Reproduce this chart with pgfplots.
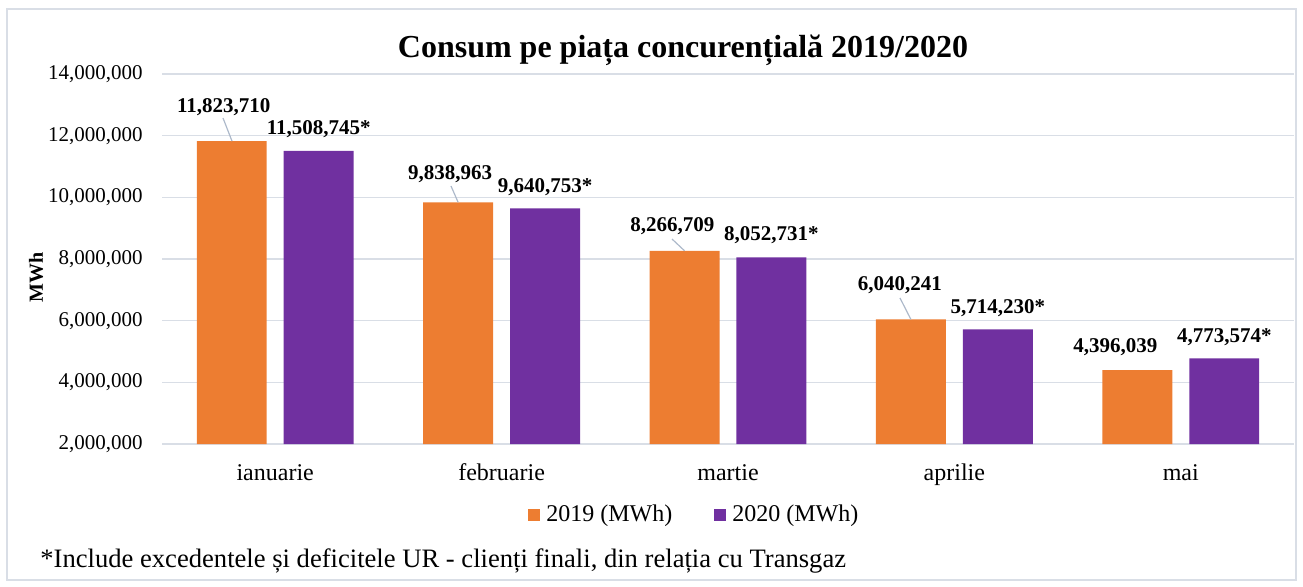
\documentclass[border=0pt]{standalone}
\usepackage{pgfplots}
\pgfplotsset{compat=1.18}
\usepackage{pgfplotstable}
\usepackage{fontspec}
\setmainfont{Liberation Serif}
\definecolor{c19}{HTML}{ED7D31}
\definecolor{c20}{HTML}{7030A0}
\definecolor{gridc}{HTML}{D9DEE6}
\definecolor{leadc}{HTML}{ADB9CA}
\definecolor{framec}{HTML}{D9DEE6}
\pgfplotsset{sqleg/.style={legend image code/.code={\fill[##1] (0pt,-3pt) rectangle (6pt,3pt);}}}

% dx, dy: label offsets (pt) from category centre / bar top
\pgfplotstableread{
x y dx dy lbl
0 11823710 -25.75 14.5 11,823,710
1 9838963 -25.75 11.5 9,838,963
2 8266709 -27.75 9.5 8,266,709
3 6040241 -27.25 14.5 6,040,241
4 4396039 -32.75 9 4,396,039
}\tabA

\pgfplotstableread{
x y dx dy lbl
0 11508745 21.75 8.4 11,508,745*
1 9640753 21.75 8.0 9,640,753*
2 8052731 21.75 8.2 8,052,731*
3 5714230 21.75 7.8 5,714,230*
4 4773574 21.75 8.2 4,773,574*
}\tabB

\begin{document}
\begin{tikzpicture}[x=1pt,y=1pt]
\useasboundingbox (0,0) rectangle (651.5,293);
\draw[framec, line width=0.75pt] (3.5,3) rectangle (648,288.5);
\node[font=\bfseries\fontsize{16}{18}\selectfont, anchor=base, inner sep=0pt] at (341.5,264.5) {Consum pe piața concurențială 2019/2020};
\node[font=\fontsize{13.3}{15}\selectfont, anchor=base west, inner sep=0pt] at (20,9.5) {*Include excedentele și deficitele UR - clienți finali, din relația cu Transgaz};
\begin{axis}[
  at={(81pt,71pt)}, anchor=south west,
  scale only axis, width=566pt, height=185pt,
  clip=false,
  xmin=-0.5, xmax=4.5,
  ymin=2000000, ymax=14000000,
  ytick={2000000,4000000,6000000,8000000,10000000,12000000,14000000},
  scaled y ticks=false,
  /pgf/number format/assume math mode=true,
  yticklabel={\pgfmathprintnumber[fixed,precision=0,1000 sep={,}]{\tick}},
  yticklabel style={font=\fontsize{10.5}{12}\selectfont, anchor=east, inner sep=0pt, xshift=-9.5pt},
  xtick={0,1,2,3,4},
  xticklabels={ianuarie,februarie,martie,aprilie,mai},
  xticklabel style={font=\fontsize{12}{14}\selectfont, anchor=base, inner sep=0pt, yshift=-18pt},
  axis line style={draw=none},
  major tick length=0pt,
  ymajorgrids, xmajorgrids=false,
  grid style={gridc, line width=0.75pt},
  ylabel={MWh},
  every axis y label/.style={at={(axis description cs:-0.1113,0.449)}, rotate=90, anchor=center,
    font=\bfseries\fontsize{10}{12}\selectfont},
  legend style={at={(axis description cs:0.472,-0.192)}, anchor=center, draw=none, fill=none,
    legend columns=2, font=\fontsize{12}{14}\selectfont,
    nodes={inner xsep=3pt},
    /tikz/every even column/.append style={column sep=18pt}},
]
\addplot[ybar, sqleg, bar width=0.309, bar shift=-0.192, fill=c19, draw=none,
  nodes near coords, point meta=explicit symbolic,
  visualization depends on={\thisrow{dx}\as\dx},
  visualization depends on={\thisrow{dy}\as\dy},
  every node near coord/.append style={anchor=base, inner sep=0pt, xshift={\dx}, yshift={\dy},
    font=\bfseries\fontsize{10.5}{12}\selectfont, text=black}]
  table[x=x, y=y, meta=lbl] {\tabA};
\addlegendentry{2019 (MWh)}
\addplot[ybar, sqleg, bar width=0.309, bar shift=0.192, fill=c20, draw=none,
  nodes near coords, point meta=explicit symbolic,
  visualization depends on={\thisrow{dx}\as\dx},
  visualization depends on={\thisrow{dy}\as\dy},
  every node near coord/.append style={anchor=base, inner sep=0pt, xshift={\dx}, yshift={\dy},
    font=\bfseries\fontsize{10.5}{12}\selectfont, text=black}]
  table[x=x, y=y, meta=lbl] {\tabB};
\addlegendentry{2020 (MWh)}
\addplot[forget plot, leadc, line width=0.6pt, no marks] coordinates {(-0.1908,11823710) (-0.2306,12574000)};
\addplot[forget plot, leadc, line width=0.6pt, no marks] coordinates {(0.8080,9838963) (0.7765,10368000)};
\addplot[forget plot, leadc, line width=0.6pt, no marks] coordinates {(1.8080,8266709) (1.7527,8649000)};
\addplot[forget plot, leadc, line width=0.6pt, no marks] coordinates {(2.8080,6040241) (2.7597,6736000)};
\end{axis}
\end{tikzpicture}
\end{document}
